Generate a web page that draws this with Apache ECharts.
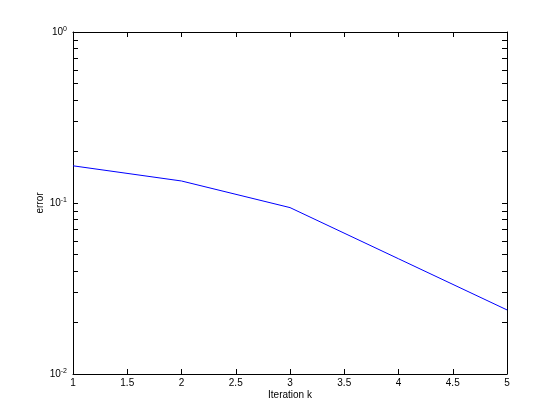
<!DOCTYPE html>
<html>
<head>
<meta charset="utf-8">
<script src="https://cdn.jsdelivr.net/npm/echarts@6/dist/echarts.min.js"></script>
<style>
  html, body { margin: 0; padding: 0; background: #fff; }
  #chart { width: 560px; height: 420px; }
</style>
</head>
<body>
<div id="chart"></div>
<script>
// data
var iterations = [1, 2, 3, 4, 5];
var errors = [0.165, 0.1345, 0.094, 0.0472, 0.0237];
var xTicks = [1, 1.5, 2, 2.5, 3, 3.5, 4, 4.5, 5];
var yMajorTicks = [0.01, 0.1, 1];
var yMinorTicks = [
  0.02, 0.03, 0.04, 0.05, 0.06, 0.07, 0.08, 0.09,
  0.2, 0.3, 0.4, 0.5, 0.6, 0.7, 0.8, 0.9
];

var font = 'Liberation Sans, Arial, sans-serif';
var black = '#000';

function expLabel(v) {
  var e = Math.round(Math.log10(v));
  return '{b|10}{s|' + e + '}';
}

var yTickValues = yMajorTicks.concat(yMinorTicks).sort(function (a, b) { return a - b; });

function xAxisDef(pos, showLabels) {
  return {
    type: 'value',
    position: pos,
    min: xTicks[0],
    max: xTicks[xTicks.length - 1],
    interval: 0.5,
    axisLine: { show: true, onZero: false, lineStyle: { color: black, width: 1 } },
    axisTick: { show: true, inside: true, length: 5, lineStyle: { color: black } },
    axisLabel: {
      show: showLabels,
      color: black,
      fontFamily: font,
      fontSize: 10,
      margin: 4
    },
    splitLine: { show: false }
  };
}

function yAxisDef(pos, showLabels) {
  return {
    type: 'log',
    logBase: 10,
    position: pos,
    min: 0.01,
    max: 1,
    axisLine: { show: true, onZero: false, lineStyle: { color: black, width: 1 } },
    axisTick: {
      show: true,
      inside: true,
      length: 5,
      customValues: yTickValues,
      lineStyle: { color: black }
    },
    axisLabel: {
      show: showLabels,
      customValues: yMajorTicks,
      formatter: expLabel,
      margin: 6,
      rich: {
        b: { fontFamily: font, fontSize: 10, color: black },
        s: { fontFamily: font, fontSize: 7, color: black, verticalAlign: 'top', padding: [0, 0, 6, 0] }
      }
    },
    splitLine: { show: false }
  };
}

var chart = echarts.init(document.getElementById('chart'));

var xBottom = xAxisDef('bottom', true);
xBottom.name = 'Iteration k';
xBottom.nameLocation = 'middle';
xBottom.nameGap = 16;
xBottom.nameMoveOverlap = false;
xBottom.nameTextStyle = { color: black, fontFamily: font, fontSize: 10 };

var yLeft = yAxisDef('left', true);
yLeft.name = 'error';
yLeft.nameLocation = 'middle';
yLeft.nameGap = 28;
yLeft.nameMoveOverlap = false;
yLeft.nameTextStyle = { color: black, fontFamily: font, fontSize: 10 };

chart.setOption({
  backgroundColor: '#fff',
  animation: false,
  grid: { left: 73, right: 53, top: 32, bottom: 46, containLabel: false },
  xAxis: [xBottom, xAxisDef('top', false)],
  yAxis: [yLeft, yAxisDef('right', false)],
  series: [
    {
      type: 'line',
      xAxisIndex: 0,
      yAxisIndex: 0,
      data: iterations.map(function (x, i) { return [x, errors[i]]; }),
      showSymbol: false,
      symbol: 'none',
      lineStyle: { color: '#0000ff', width: 1 }
    }
  ]
});
</script>
</body>
</html>
